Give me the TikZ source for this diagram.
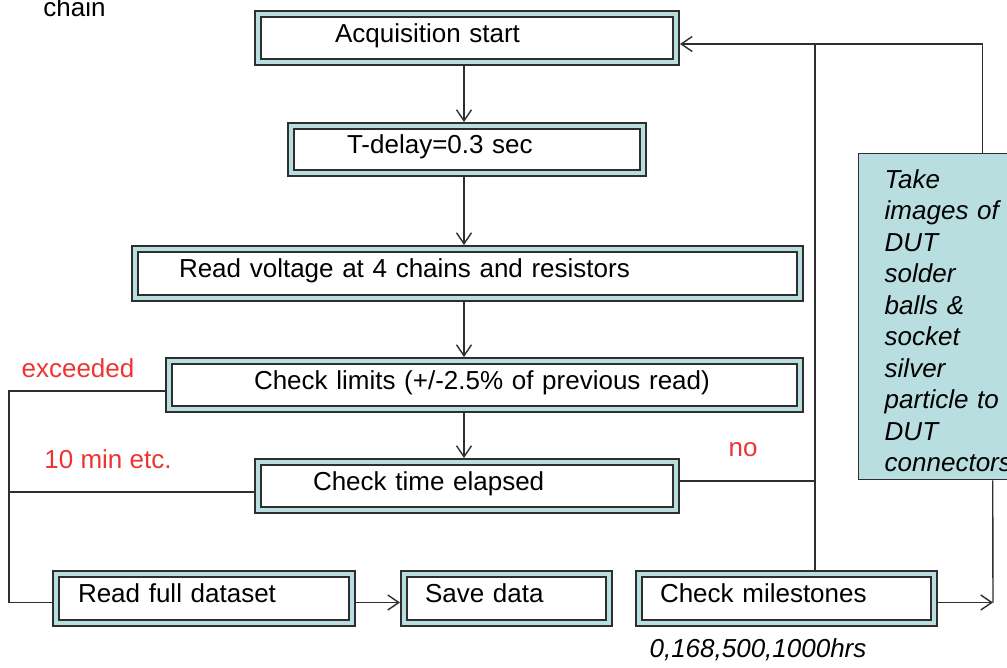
\documentclass[tikz,border=0pt]{standalone}
\usepackage{fontspec}
\setmainfont{Liberation Sans}
\usetikzlibrary{arrows.meta,calc}
\definecolor{band}{HTML}{B9DEE0}
\definecolor{ink}{HTML}{2E2E2E}
\definecolor{alert}{HTML}{EE3333}

\begin{document}
\begin{tikzpicture}[x=1pt, y=-1pt,
  font=\fontsize{26}{31.5}\selectfont,
  stage/.style={rectangle, draw=ink, line width=1.8pt, double=band, double distance=4.4pt,
    fill=white, outer sep=4pt, anchor=north west, inner xsep=0pt, inner ysep=0pt, align=left,
    text height=18pt, text depth=10pt},
  flow/.style={-{Straight Barb[length=11pt,width=15pt]}, line width=1.4pt, ink},
  link/.style={line width=1.4pt, ink},
  note/.style={text=alert, anchor=base}
]
  \clip (0,0) rectangle (1007,667);

  % main loop
  \node[stage, minimum width=418pt, minimum height=48pt, text width=264pt] (acq) at (254,10) {Acquisition start};
  \node[stage, minimum width=352pt, minimum height=47pt, text width=240pt] (delay) at (287,122) {T-delay=0.3 sec};
  \node[stage, minimum width=665pt, minimum height=49pt, text width=577pt] (voltage) at (131,245) {Read voltage at 4 chains and resistors};
  \node[stage, minimum width=631pt, minimum height=48pt, text width=461pt] (limits) at (165,357) {Check limits (+/-2.5\% of previous read)};
  \node[stage, minimum width=418pt, minimum height=48pt, text width=308pt] (time) at (254,458) {Check time elapsed};
  \node[stage, minimum width=296pt, minimum height=49pt, text width=252pt] (full) at (52,570) {Read full dataset};
  \node[stage, minimum width=205pt, minimum height=49pt, text width=163pt] (save) at (400,570) {Save data};
  \node[stage, minimum width=295pt, minimum height=49pt, text width=253pt] (miles) at (635,570) {Check milestones};

  \node[rectangle, draw=ink, line width=1.4pt, fill=band, anchor=north west, minimum width=248pt,
    minimum height=326pt, inner xsep=0pt, text width=196pt, text height=27pt, align=left,
    font=\fontsize{26}{31.5}\selectfont\itshape]
    (take) at (858,153) {Take\\images of\\DUT\\solder\\balls \&\\socket\\silver\\particle to\\DUT\\connectors};

  \coordinate (spine) at (464,0);
  \coordinate (bus) at (815,44);

  \draw[flow] (acq.south -| spine) -- (delay.north -| spine);
  \draw[flow] (delay.south -| spine) -- (voltage.north -| spine);
  \draw[flow] (voltage.south -| spine) -- (limits.north -| spine);
  \draw[flow] (limits.south -| spine) -- (time.north -| spine);

  \draw[link] ([yshift=-6pt]limits.west) -- ++(-156,0) |- ([yshift=-4pt]full.west);
  \draw[link] ([yshift=-6pt]time.west) -- ++(-245,0);
  \draw[flow] ([yshift=-4pt]full.east) -- ([yshift=-4pt]save.west);

  \draw[link] ([yshift=5pt]time.east) -- ++(135,0);
  \draw[link] (bus) -- (bus |- miles.north);
  \draw[flow] (take.north) |- ([yshift=-6pt]acq.east);
  \draw[flow] ([yshift=-4pt]miles.east) -- ++(55,0) coordinate (ret);
  \draw[link] ([xshift=10pt]take.south) -- (ret);

  % labels
  \node[anchor=base] (chain) at (74.5,16) {chain};
  \node[note] (exceeded) at (78,377) {exceeded};
  \node[note] (interval) at (108,468) {10 min etc.};
  \node[note] (no) at (743,456) {no};
  \node[anchor=base, font=\fontsize{26}{31.5}\selectfont\itshape] (marks) at (758,657) {0,168,500,1000hrs};
\end{tikzpicture}
\end{document}
